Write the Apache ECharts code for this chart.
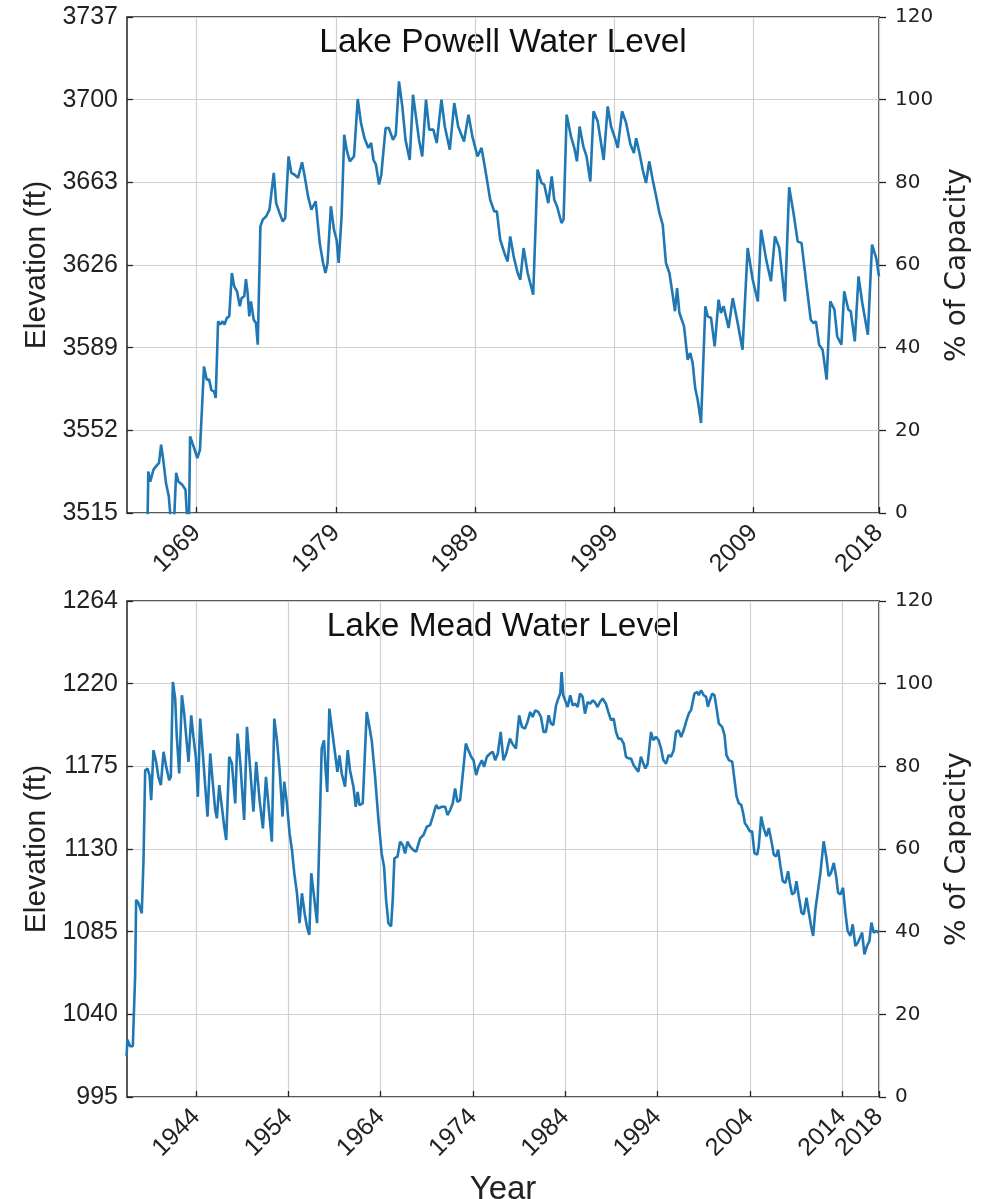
<!DOCTYPE html>
<html>
<head>
<meta charset="utf-8">
<script src="https://cdn.jsdelivr.net/npm/echarts@6/dist/echarts.min.js"></script>
<style>
html,body{margin:0;padding:0;background:#ffffff;}
#chart{width:991px;height:1199px;}
</style>
</head>
<body>
<div id="chart"></div>
<script>
// ---------- tick labels ----------
const powellYearTicks = [1969, 1979, 1989, 1999, 2009, 2018];
const meadYearTicks = [1944, 1954, 1964, 1974, 1984, 1994, 2004, 2014, 2018];
const powellElevTicks = [3515, 3552, 3589, 3626, 3663, 3700, 3737];
const meadElevTicks = [995, 1040, 1085, 1130, 1175, 1220, 1265];
const meadElevLabels = ['995', '1040', '1085', '1130', '1175', '1220', '1264'];
const capacityTicks = [0, 20, 40, 60, 80, 100, 120];

// ---------- Lake Powell elevation (year, ft) ----------
const powell1960s = [
  [1965.45,3500],[1965.53,3533.6],[1965.67,3529],[1965.9,3534.4],[1966.1,3536],[1966.3,3537.4],
  [1966.45,3545.6],[1966.6,3539],[1966.8,3528.4],[1967.0,3522.5],[1967.3,3500],[1967.53,3533],
  [1967.7,3529],[1967.96,3527.7],[1968.2,3525.4],[1968.43,3500],[1968.53,3549.3],[1968.64,3550],
  [1968.86,3543.3],[1969.05,3539.6],[1969.24,3543.3],[1969.53,3580.6],[1969.72,3574.7],[1969.9,3574.7]
];
const powell1970s = [
  [1970.06,3570],[1970.25,3569.4],[1970.37,3566.5],[1970.54,3600.8],[1970.7,3599.3],[1970.86,3600.8],
  [1971.0,3599.3],[1971.17,3602.3],[1971.34,3603],[1971.53,3622.4],[1971.7,3616.4],[1971.9,3614.2],
  [1972.1,3607.5],[1972.23,3611.2],[1972.42,3612],[1972.54,3619.7],[1972.66,3613.5],[1972.78,3603],
  [1972.9,3609.7],[1973.1,3601.5],[1973.26,3600],[1973.39,3590.3],[1973.58,3643.3],[1973.75,3646.3],
  [1974.0,3647.8],[1974.23,3650.8],[1974.54,3667.2],[1974.71,3653.7],[1974.95,3649.3],[1975.19,3645.5],
  [1975.36,3647],[1975.6,3674.6],[1975.8,3667.2],[1976.04,3666.4],[1976.28,3665],[1976.57,3672],
  [1976.76,3665.7],[1977.0,3656.7],[1977.24,3650.8],[1977.55,3654.5],[1977.84,3635.8],[1978.08,3626.9],
  [1978.25,3622.4],[1978.4,3626.9],[1978.64,3652.3],[1978.86,3641.8],[1979.05,3637.3],[1979.2,3626.9],
  [1979.41,3647.8],[1979.6,3684.3],[1979.77,3677.6]
];
const powell1980s = [
  [1980.0,3672.4],[1980.3,3674.6],[1980.57,3700.3],[1980.8,3689.6],[1981.05,3682.8],[1981.33,3678.4],
  [1981.53,3680.6],[1981.7,3673],[1981.87,3671],[1982.1,3662],[1982.26,3666.4],[1982.57,3687.3],
  [1982.8,3687.3],[1983.1,3682],[1983.3,3684.3],[1983.53,3708.2],[1983.77,3697],[1984.0,3682],
  [1984.3,3673],[1984.54,3702.2],[1984.73,3693.3],[1984.97,3682],[1985.2,3674.6],[1985.47,3700],
  [1985.7,3686.6],[1986.0,3686.6],[1986.24,3680.6],[1986.58,3700],[1986.82,3688],[1987.18,3677.6],
  [1987.5,3698.5],[1987.78,3688],[1988.2,3681.3],[1988.52,3693.3],[1988.8,3683.6],[1989.17,3674.6],
  [1989.46,3678.4],[1989.77,3667.2]
];
const powell1990s = [
  [1990.08,3655.2],[1990.37,3650],[1990.56,3650],[1990.8,3637.3],[1991.1,3631.4],[1991.33,3627.6],
  [1991.52,3638.8],[1991.76,3630],[1992.05,3622.4],[1992.24,3619.4],[1992.48,3633.6],[1992.77,3622.4],
  [1993.17,3612.7],[1993.48,3668.7],[1993.77,3662.7],[1993.96,3662],[1994.25,3653.7],[1994.5,3665.7],
  [1994.68,3655.2],[1994.88,3652.3],[1995.2,3644.8],[1995.35,3646.3],[1995.57,3693.3],[1995.88,3683.6],
  [1996.12,3678.4],[1996.31,3672.4],[1996.5,3688],[1996.77,3679],[1997.0,3674.6],[1997.27,3663.4],
  [1997.5,3694.8],[1997.8,3690.3],[1998.04,3680.6],[1998.23,3673],[1998.52,3697],[1998.76,3688],
  [1999.08,3682],[1999.24,3678.4],[1999.55,3694.8],[1999.84,3689.6]
];
const powell2000s = [
  [2000.15,3679.9],[2000.4,3676.1],[2000.56,3682.8],[2000.8,3676.1],[2001.03,3668.7],[2001.27,3662.7],
  [2001.5,3672.4],[2001.75,3664.2],[2002.0,3656.7],[2002.23,3649.3],[2002.47,3644],[2002.7,3626.9],
  [2002.95,3622.4],[2003.2,3612],[2003.35,3605.3],[2003.5,3615.7],[2003.67,3604.5],[2004.0,3598.5],
  [2004.26,3583.6],[2004.45,3586.6],[2004.62,3582.1],[2004.8,3570.9],[2004.98,3565.7],[2005.22,3555.3],
  [2005.53,3607.5],[2005.7,3603],[2005.94,3602.3],[2006.2,3589.6],[2006.48,3610.5],[2006.65,3604.5],
  [2006.84,3607.5],[2007.2,3597.8],[2007.5,3611.2],[2007.85,3600],[2008.2,3588.1],[2008.57,3633.6],
  [2008.93,3619.4],[2009.3,3609.7],[2009.53,3641.8],[2009.9,3628.4]
];
const powell2010s = [
  [2010.24,3618.7],[2010.53,3638.8],[2010.84,3633.6],[2011.25,3609.7],[2011.55,3660.8],[2011.86,3649.3],
  [2012.16,3636.6],[2012.44,3635.8],[2012.75,3619.4],[2013.1,3601.5],[2013.3,3600],[2013.47,3600.8],
  [2013.7,3590.3],[2013.95,3588.1],[2014.24,3574.7],[2014.5,3609.7],[2014.8,3606],[2015.0,3594],
  [2015.3,3590.3],[2015.5,3614.2],[2015.8,3606],[2015.97,3605.3],[2016.26,3591.8],[2016.53,3620.9],
  [2016.8,3609],[2017.2,3594.8],[2017.5,3635.1],[2017.8,3629.1],[2018.0,3620.9]
];

// ---------- Lake Mead elevation (year, ft) ----------
const mead1930s = [
  [1936.45,1017.2],[1936.55,1026.2],[1936.84,1022.6],[1937.13,1022.6],[1937.38,1060.6],[1937.49,1102.3],
  [1937.75,1100.5],[1938.1,1095],[1938.29,1124],[1938.47,1172.9],[1938.72,1173.8],[1938.94,1170.2],
  [1939.12,1156.6],[1939.37,1183.8],[1939.66,1177.4],[1939.9,1169.3]
];
const mead1940s = [
  [1940.17,1164.8],[1940.46,1182.9],[1940.75,1174.7],[1941.07,1167.5],[1941.25,1169.3],[1941.47,1220.9],
  [1941.72,1211.9],[1941.9,1191],[1942.16,1171.1],[1942.45,1213.7],[1942.7,1203.7],[1942.92,1191],
  [1943.17,1177.4],[1943.46,1202.8],[1943.7,1191],[1943.96,1180.2],[1944.18,1158.4],[1944.43,1201],
  [1944.72,1182],[1944.98,1163.9],[1945.23,1147.6],[1945.52,1182],[1945.8,1165.7],[1946.06,1151.2],
  [1946.24,1146.7],[1946.5,1164.8],[1946.78,1153],[1947.04,1142.1],[1947.25,1134.9],[1947.58,1180.2],
  [1947.87,1176.5],[1948.23,1154.8],[1948.48,1192.8],[1948.77,1177.4],[1949.2,1145.8],[1949.5,1196.5],
  [1949.86,1172.9]
];
const mead1950s = [
  [1950.2,1150.3],[1950.5,1177.4],[1950.87,1156.6],[1951.23,1141.2],[1951.56,1169.3],[1951.85,1153],
  [1952.2,1134],[1952.46,1201],[1952.75,1189.2],[1953.04,1172.9],[1953.36,1147.6],[1953.54,1166.6],
  [1953.83,1154.8],[1954.12,1138.5],[1954.38,1129.4],[1954.63,1116.8],[1954.92,1105.9],[1955.2,1089.6],
  [1955.46,1105.9],[1955.75,1095],[1956.0,1087.8],[1956.26,1083.3],[1956.47,1116.8],[1956.73,1105.9],
  [1957.1,1089.6],[1957.43,1151.2],[1957.6,1184.7],[1957.85,1189.2],[1958.03,1172.9],[1958.2,1161.1],
  [1958.43,1206.4],[1958.68,1196.5],[1959.05,1182],[1959.3,1172],[1959.52,1181],[1959.77,1171.1]
];
const mead1960s = [
  [1960.13,1163.9],[1960.42,1183.8],[1960.67,1172.9],[1961.04,1163.9],[1961.29,1153],[1961.5,1161.1],
  [1961.69,1153.9],[1962.05,1154.8],[1962.23,1153.9],[1962.48,1204.6],[1962.77,1196.5],[1963.02,1189.2],
  [1963.39,1169.3],[1963.75,1145.8],[1964.1,1127.6],[1964.36,1120.4],[1964.58,1102.3],[1964.83,1089.6],
  [1965.12,1087.8],[1965.3,1102.3],[1965.48,1124.9],[1965.81,1125.8],[1966.1,1134],[1966.39,1132.2],
  [1966.64,1127.6],[1966.89,1134],[1967.18,1131.3],[1967.54,1129.4],[1967.83,1128.5],[1968.27,1135.8],
  [1968.63,1137.6],[1968.99,1142.1],[1969.35,1143],[1969.64,1147.6]
];
const mead1970s = [
  [1970.0,1153.9],[1970.25,1152.1],[1970.62,1153],[1970.98,1153],[1971.23,1148.5],[1971.52,1151.2],
  [1971.8,1154.8],[1972.06,1163],[1972.3,1155.7],[1972.6,1156.6],[1972.9,1171.1],[1973.22,1187.4],
  [1973.5,1183.8],[1973.8,1180.2],[1974.06,1178.3],[1974.34,1170.2],[1974.6,1174.7],[1974.96,1178.3],
  [1975.2,1174.7],[1975.5,1180.2],[1975.86,1182],[1976.15,1182.9],[1976.4,1178.3],[1976.69,1182],
  [1977.0,1193.7],[1977.3,1178.3],[1977.6,1182],[1978.0,1190.1],[1978.3,1187],[1978.65,1184.7],
  [1979.0,1202.8],[1979.3,1196.5],[1979.63,1195.6],[1979.91,1199.2]
];
const mead1980s = [
  [1980.2,1204.6],[1980.46,1201.9],[1980.75,1205.5],[1981.07,1204.6],[1981.36,1201.9],[1981.65,1193.7],
  [1981.9,1193.7],[1982.19,1202.8],[1982.45,1198.3],[1982.7,1197.4],[1983.0,1208.2],[1983.24,1211.9],
  [1983.46,1214.6],[1983.6,1226.3],[1983.78,1213.7],[1983.96,1212.8],[1984.25,1207.3],[1984.54,1213.7],
  [1984.8,1208.2],[1985.05,1209.1],[1985.34,1207.3],[1985.6,1214.6],[1985.88,1212.8],[1986.13,1203.7],
  [1986.42,1210],[1986.71,1209.1],[1986.96,1210.9],[1987.2,1210],[1987.5,1207.3],[1987.76,1210],
  [1988.05,1211.9],[1988.4,1209.1],[1988.66,1204.6],[1988.95,1200.1],[1989.24,1201],[1989.5,1193.7],
  [1989.75,1190.1]
];
const mead1990s = [
  [1990.04,1190.1],[1990.33,1187.4],[1990.58,1180.2],[1990.87,1179.3],[1991.12,1179.3],[1991.41,1175.6],
  [1991.66,1173.8],[1991.92,1172],[1992.2,1180.2],[1992.46,1176.5],[1992.68,1173.8],[1992.93,1176.5],
  [1993.29,1193.7],[1993.54,1189.2],[1993.83,1191],[1994.12,1189.2],[1994.38,1184.7],[1994.63,1178.3],
  [1994.92,1176.5],[1995.2,1181.1],[1995.46,1180.2],[1995.75,1183.8],[1996.0,1193.7],[1996.29,1194.6],
  [1996.55,1191],[1996.83,1194.6],[1997.09,1199.2],[1997.38,1203.7],[1997.63,1205.5],[1998.0,1214.6],
  [1998.3,1215.5],[1998.47,1213.7],[1998.73,1216.4],[1999.0,1213.7],[1999.27,1212.8],[1999.45,1207.4],
  [1999.67,1211],[1999.92,1214.6]
];
const mead2000s = [
  [2000.17,1213.7],[2000.4,1206.4],[2000.64,1198.3],[2001.0,1196.5],[2001.26,1192],[2001.47,1181.1],
  [2001.73,1178.4],[2002.09,1177.5],[2002.34,1167.6],[2002.56,1158.6],[2002.8,1154.9],[2003.06,1154],
  [2003.28,1149.5],[2003.46,1144.1],[2003.71,1142.3],[2004.0,1139.6],[2004.25,1139.6],[2004.5,1127.8],
  [2004.8,1126.9],[2004.97,1131.5],[2005.23,1147.7],[2005.5,1141.4],[2005.8,1136.9],[2006.06,1141.4],
  [2006.31,1135.1],[2006.6,1126.9],[2006.85,1126],[2007.07,1129.6],[2007.32,1120.6],[2007.57,1112.5],
  [2007.86,1111.6],[2008.15,1117.9],[2008.33,1111.6],[2008.58,1105.3],[2008.84,1106.2],[2009.05,1112.5],
  [2009.3,1104.4],[2009.6,1095.3],[2009.85,1094.4]
];
const mead2010s = [
  [2010.14,1103.5],[2010.4,1095.3],[2010.64,1088.1],[2010.86,1082.7],[2011.11,1097.1],[2011.3,1097.1],
  [2011.65,1117],[2012.0,1134.2],[2012.3,1125.1],[2012.55,1115.2],[2012.8,1117],[2013.1,1122.4],
  [2013.35,1115.2],[2013.57,1106.2],[2013.82,1105.3],[2014.1,1108.9],[2014.36,1095.3],[2014.6,1085.4],
  [2014.9,1082.7],[2015.15,1089],[2015.44,1077.2],[2015.7,1079],[2015.9,1079.9],[2016.17,1084.5],
  [2016.42,1072.7],[2016.7,1077.2],[2016.96,1079.9],[2017.18,1089.9],[2017.43,1084.5],[2017.68,1085.4],
  [2017.97,1084.5]
];

const powellLevels = [].concat(powell1960s, powell1970s, powell1980s, powell1990s, powell2000s, powell2010s);
const meadLevels = [].concat(mead1930s, mead1940s, mead1950s, mead1960s, mead1970s, mead1980s, mead1990s, mead2000s, mead2010s);

// ---------- styling ----------
const INK = '#222222';
const GRID_COLOR = '#d0d0d0';
const LINE_COLOR = '#1f77b4';
const ARIAL = 'Liberation Sans, Arial, sans-serif';
const DEJAVU = 'DejaVu Sans, sans-serif';

function gridBox(top) {
  return {
    left: 127, top: top, width: 752, height: 496,
    show: true, borderColor: INK, borderWidth: 1.5, backgroundColor: 'transparent',
    containLabel: false, outerBoundsMode: 'none'
  };
}

function xAxisOf(gridIndex, min, max, ticks, withName) {
  const ax = {
    gridIndex: gridIndex, type: 'value', min: min, max: max, position: 'bottom',
    axisLine: { show: false },
    axisTick: { show: true, inside: true, length: 6, customValues: ticks, lineStyle: { color: INK, width: 1.3 } },
    axisLabel: {
      customValues: ticks, rotate: 45, margin: 16, fontSize: 25, fontFamily: ARIAL, color: INK,
      formatter: function (v) { return String(Math.round(v)); }
    },
    splitLine: { show: true, lineStyle: { color: GRID_COLOR, width: 1.2 } }
  };
  if (withName) {
    ax.name = 'Year';
    ax.nameLocation = 'middle';
    ax.nameGap = 76;
    ax.nameTextStyle = { fontSize: 33, fontFamily: ARIAL, color: INK };
  }
  return ax;
}

function leftAxisOf(gridIndex, min, max, ticks, labels) {
  return {
    gridIndex: gridIndex, type: 'value', min: min, max: max, position: 'left',
    axisLine: { show: false },
    axisTick: { show: true, inside: true, length: 6, customValues: ticks, lineStyle: { color: INK, width: 1.3 } },
    axisLabel: {
      customValues: ticks, margin: 9, fontSize: 25, fontFamily: ARIAL, color: INK,
      formatter: function (v) { const i = ticks.indexOf(v); return i >= 0 ? labels[i] : ''; }
    },
    splitLine: { show: true, lineStyle: { color: GRID_COLOR, width: 1.2 } },
    name: 'Elevation (ft)', nameLocation: 'middle', nameGap: 74,
    nameTextStyle: { fontSize: 30, fontFamily: ARIAL, color: INK }
  };
}

function rightAxisOf(gridIndex) {
  return {
    gridIndex: gridIndex, type: 'value', min: capacityTicks[0], max: capacityTicks[capacityTicks.length - 1],
    interval: capacityTicks[1] - capacityTicks[0], position: 'right',
    axisLine: { show: false },
    axisTick: { show: true, inside: false, length: 7, lineStyle: { color: INK, width: 1.3 } },
    axisLabel: { margin: 16, fontSize: 20, fontFamily: DEJAVU, color: INK },
    splitLine: { show: false },
    name: '% of Capacity', nameLocation: 'middle', nameGap: 65,
    nameTextStyle: { fontSize: 28, fontFamily: DEJAVU, color: INK }
  };
}

const chart = echarts.init(document.getElementById('chart'), null, { renderer: 'canvas' });
chart.setOption({
  animation: false,
  backgroundColor: '#ffffff',
  grid: [gridBox(17), gridBox(601)],
  xAxis: [
    xAxisOf(0, 1964, 2018, powellYearTicks, false),
    xAxisOf(1, 1936.5, 2018, meadYearTicks, true)
  ],
  yAxis: [
    leftAxisOf(0, 3515, 3737, powellElevTicks, powellElevTicks.map(String)),
    rightAxisOf(0),
    leftAxisOf(1, 995, 1265, meadElevTicks, meadElevLabels),
    rightAxisOf(1)
  ],
  graphic: [
    { type: 'text', x: 503, y: 43, style: { text: 'Lake Powell Water Level', font: '33.5px ' + ARIAL, fill: '#111', align: 'center', verticalAlign: 'middle' } },
    { type: 'text', x: 503, y: 627, style: { text: 'Lake Mead Water Level', font: '33.5px ' + ARIAL, fill: '#111', align: 'center', verticalAlign: 'middle' } }
  ],
  series: [
    { type: 'line', xAxisIndex: 0, yAxisIndex: 0, data: powellLevels, showSymbol: false, clip: true,
      lineStyle: { color: LINE_COLOR, width: 2.6 }, itemStyle: { color: LINE_COLOR } },
    { type: 'line', xAxisIndex: 1, yAxisIndex: 2, data: meadLevels, showSymbol: false, clip: true,
      lineStyle: { color: LINE_COLOR, width: 2.6 }, itemStyle: { color: LINE_COLOR } }
  ]
});
</script>
</body>
</html>
